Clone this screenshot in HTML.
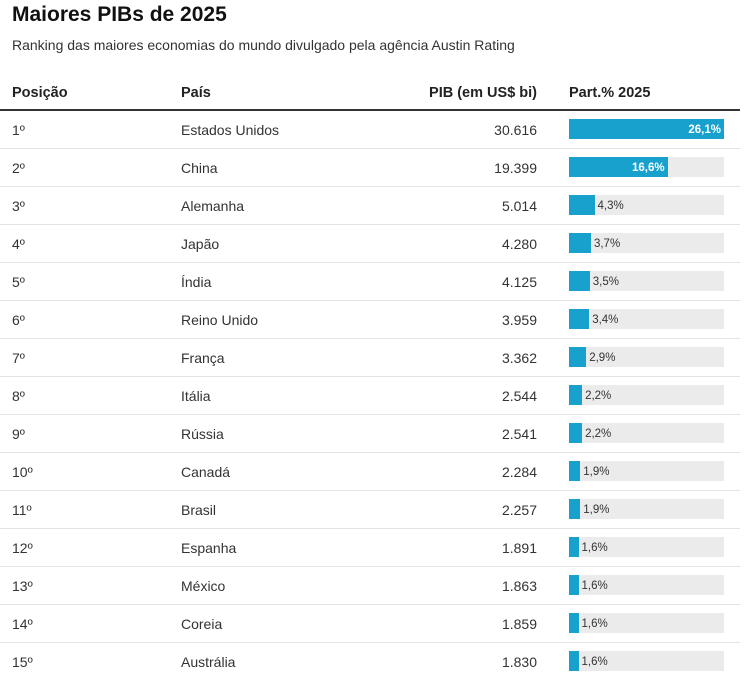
<!DOCTYPE html>
<html><head><meta charset="utf-8">
<style>
body{margin:0;background:#fff;font-family:"Liberation Sans",Arial,sans-serif;color:#222;width:751px;height:684px;overflow:hidden;position:relative}
.abs{position:absolute;white-space:nowrap}
#title{left:12px;top:3px;font-size:21px;font-weight:bold;color:#111}
#sub{left:12px;top:37px;font-size:14px;color:#333}
.hdr{top:85px;font-size:14.5px;font-weight:bold;color:#222}
#hline{left:0;top:109px;width:740px;height:2px;background:#333}
.cell{font-size:14px;color:#333}
.sep{left:0;width:740px;height:1px;background:#e4e4e4}
.track{left:569px;width:155px;height:20px;background:#ebebeb}
.bar{position:absolute;left:0;top:0;height:20px;background:#19a1cd}
.lbl{font-size:11.5px;top:1px;line-height:20px}
</style></head><body>
<div class="abs" id="title">Maiores PIBs de 2025</div>
<div class="abs" id="sub">Ranking das maiores economias do mundo divulgado pela agência Austin Rating</div>
<div class="abs hdr" style="left:12px">Posição</div>
<div class="abs hdr" style="left:181px">País</div>
<div class="abs hdr" style="right:214px">PIB (em US$ bi)</div>
<div class="abs hdr" style="left:569px">Part.% 2025</div>
<div class="abs" id="hline"></div>
<div id="rows"></div>
<script>
const positions = ["1º","2º","3º","4º","5º","6º","7º","8º","9º","10º","11º","12º","13º","14º","15º"];
const countries = ["Estados Unidos","China","Alemanha","Japão","Índia","Reino Unido","França","Itália","Rússia","Canadá","Brasil","Espanha","México","Coreia","Austrália"];
const gdp = ["30.616","19.399","5.014","4.280","4.125","3.959","3.362","2.544","2.541","2.284","2.257","1.891","1.863","1.859","1.830"];
const shares = [26.1,16.6,4.3,3.7,3.5,3.4,2.9,2.2,2.2,1.9,1.9,1.6,1.6,1.6,1.6];
const maxShare = 26.1, trackW = 155;
const xScale = v => v / maxShare * trackW;
const root = document.getElementById('rows');
shares.forEach((s, i) => {
  const cy = 129 + i * 38;
  const mk = (cls, style, text) => { const d = document.createElement('div'); d.className = 'abs ' + cls; d.style.cssText = style; if (text !== undefined) d.textContent = text; root.appendChild(d); return d; };
  const p = mk('cell', `left:12px;top:${cy-7}px`, positions[i]);
  
  
  const c = mk('cell', `left:181px;top:${cy-7}px`, countries[i]);
  
  
  const g = mk('cell', `right:214px;top:${cy-7}px`, gdp[i]);
  
  
  const t = mk('track', `top:${cy-10}px`);
  
  
  const b = document.createElement('div'); b.className = 'bar'; b.style.width = xScale(s) + 'px'; t.appendChild(b);
  
  
  const l = document.createElement('div'); l.className = 'abs lbl';
  l.textContent = s.toFixed(1).replace('.', ',') + '%';
  const w = xScale(s);
  if (w > 60) { l.style.right = (trackW - w + 3) + 'px'; l.style.color = '#fff'; l.style.fontWeight = 'bold'; }
  else { l.style.left = (w + 3) + 'px'; l.style.color = '#333'; }
  t.appendChild(l);
  
  
  if (i < shares.length - 1) {
    const sp = mk('sep', `top:${cy+19}px`);
    
    
  }
});
</script>
</body></html>
